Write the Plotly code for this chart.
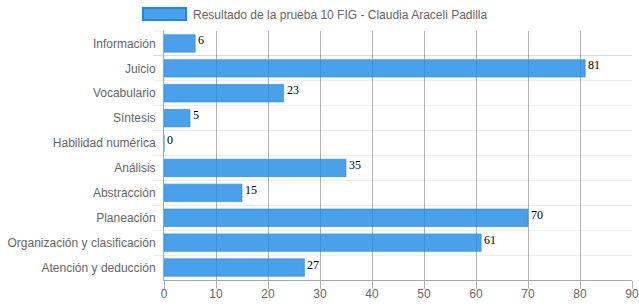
import plotly.graph_objects as go

categories = ["Información", "Juicio", "Vocabulario", "Síntesis", "Habilidad numérica",
              "Análisis", "Abstracción", "Planeación", "Organización y clasificación",
              "Atención y deducción"]
values = [6, 81, 23, 5, 0, 35, 15, 70, 61, 27]
series_name = "Resultado de la prueba 10 FIG - Claudia Araceli Padilla"
x_ticks = [0, 10, 20, 30, 40, 50, 60, 70, 80, 90]

BAR = "rgba(30,136,229,0.8)"
BAR_LINE = "rgba(30,136,229,0.6)"

fig = go.Figure()
fig.add_trace(go.Bar(
    y=categories, x=values, orientation="h",
    marker=dict(color=BAR, line=dict(color=BAR_LINE, width=1)),
    name=series_name, showlegend=False,
))

for c, v in zip(categories, values):
    fig.add_annotation(x=v, y=c, text=str(v), showarrow=False,
                       xanchor="left", yanchor="middle", xshift=1, yshift=3,
                       font=dict(family="Liberation Serif", size=12, color="#000"))

W, H = 639, 308
L, R, T, B = 164, 7, 31, 28
pw, ph = W - L - R, H - T - B

def px(x):
    return (x - L) / pw

def py(y):
    return 1 + (T - y) / ph

fig.add_shape(type="rect", xref="paper", yref="paper",
              x0=px(143), x1=px(186), y0=py(20), y1=py(8),
              fillcolor=BAR, line=dict(color="rgba(30,136,229,1)", width=2))
fig.add_annotation(xref="paper", yref="paper", x=px(191), y=py(14.5),
                   text=series_name, showarrow=False, xanchor="left", yanchor="middle",
                   font=dict(family="Liberation Sans", size=12, color="#666"))

fig.update_layout(
    width=W, height=H,
    margin=dict(l=L, r=R, t=T, b=B, pad=0, autoexpand=False),
    paper_bgcolor="white", plot_bgcolor="white",
    font=dict(family="Liberation Sans", size=12, color="#666"),
    bargap=0.3,
    showlegend=False,
)
fig.update_xaxes(range=[0, 90], tickvals=x_ticks, showgrid=True, gridcolor="rgba(0,0,0,0.3)",
                 gridwidth=1, zeroline=False, showline=True, linecolor="rgba(0,0,0,0.35)",
                 ticks="outside", ticklen=8, tickcolor="rgba(0,0,0,0.3)",
                 tickfont=dict(size=12, color="#666"), fixedrange=True, automargin=False,
                 ticklabelstandoff=-5)
fig.update_yaxes(autorange="reversed", tickson="boundaries", showgrid=True,
                 gridcolor="rgba(0,0,0,0.07)", showline=True, linecolor="rgba(0,0,0,0.35)",
                 ticks="outside", ticklen=10, tickcolor="rgba(0,0,0,0.07)",
                 tickfont=dict(size=12, color="#666"), ticklabelstandoff=5, automargin=False)

fig.write_html("out.html")
